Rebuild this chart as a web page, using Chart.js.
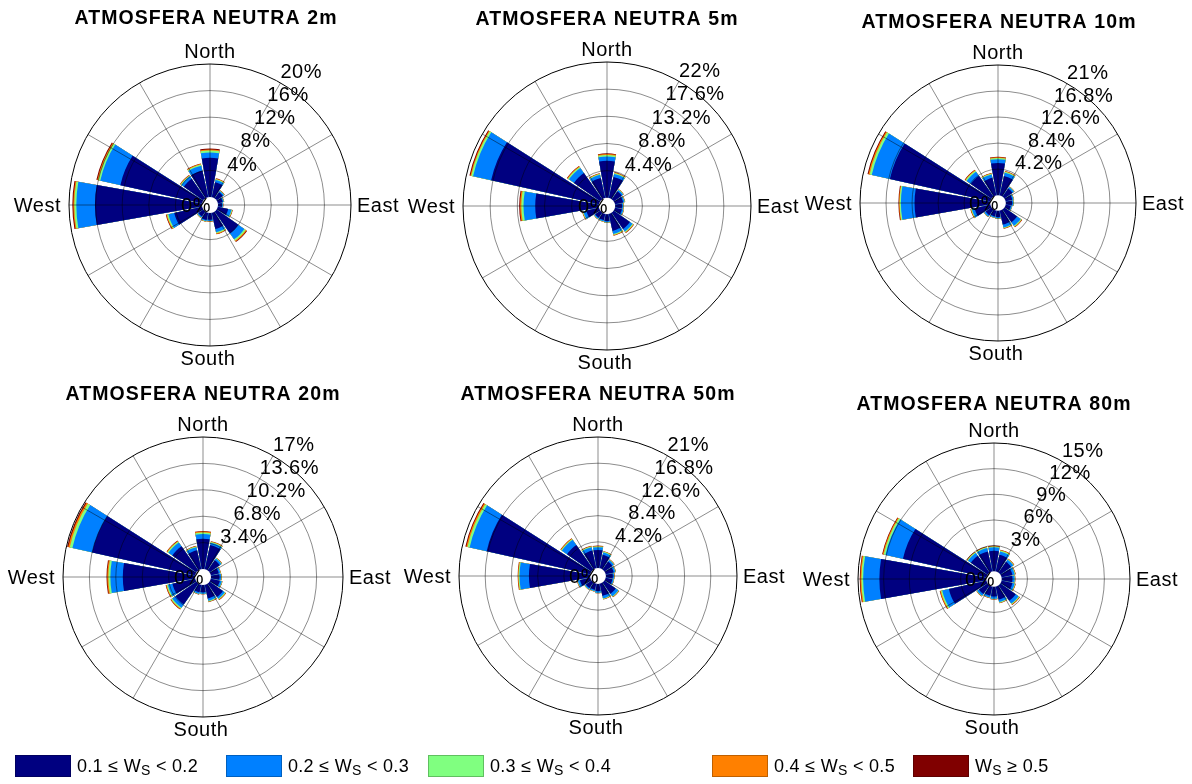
<!DOCTYPE html>
<html>
<head>
<meta charset="utf-8">
<title>Atmosfera neutra – rosas de vientos</title>
<script src="https://cdn.jsdelivr.net/npm/chart.js@4.4.1/dist/chart.umd.min.js"></script>
<style>
  html, body { margin: 0; padding: 0; background: #fff; }
  #page { position: relative; width: 1192px; height: 784px; overflow: hidden;
          font-family: "Liberation Sans", Arial, sans-serif; }
  #page canvas { position: absolute; }
  .leg-box { position: absolute; top: 755px; width: 56px; height: 22px; box-sizing: border-box;
             border: 1px solid rgba(0,0,0,0.25); }
  .leg-txt { position: absolute; top: 755px; height: 22px; line-height: 22px; font-size: 18px;
             color: #000; white-space: nowrap; letter-spacing: 0.3px; }
  .leg-txt sub { font-size: 14px; position: relative; top: 3px; vertical-align: baseline; }
</style>
</head>
<body>
<div id="page"></div>
<script>
// Compass sectors, clockwise from North
const DIRECTIONS = ['N','NNE','NE','ENE','E','ESE','SE','SSE','S','SSW','SW','WSW','W','WNW','NW','NNW'];
const HEIGHTS = ['2m', '5m', '10m', '20m', '50m', '80m'];
// outer ring value (%) of every rose
const RING_MAX = [20, 22, 21, 17, 21, 15];
// speed classes (W_S)
const CLASS_LOW  = [0.1, 0.2, 0.3, 0.4, 0.5];
const CLASS_HIGH = [0.2, 0.3, 0.4, 0.5, null];
const CLASS_COLORS = ['#000080', '#0080ff', '#80ff80', '#ff8000', '#800000'];

// frequency (%) per direction and speed class — 2 m
const h2_ws1 = [5.9, 2.3, 1.15, 0.75, 0.6, 1.6, 4.0, 2.5, 1.0, 1.1, 0.9, 4.3, 16.1, 12.6, 3.6, 4.1];
const h2_ws2 = [0.8, 0.35, 0.2, 0.15, 0.12, 0.5, 1.1, 0.5, 0.18, 0.18, 0.18, 0.9, 2.8, 3.1, 0.45, 0.75];
const h2_ws3 = [0.3, 0.12, 0.07, 0.05, 0.04, 0.1, 0.25, 0.15, 0.06, 0.06, 0.06, 0.2, 0.3, 0.3, 0.12, 0.18];
const h2_ws4 = [0.15, 0.08, 0.05, 0.03, 0.02, 0.06, 0.15, 0.1, 0.04, 0.04, 0.04, 0.12, 0.15, 0.15, 0.08, 0.1];
const h2_ws5 = [0.15, 0.05, 0.03, 0.02, 0.02, 0.04, 0.1, 0.05, 0.02, 0.02, 0.02, 0.08, 0.15, 0.15, 0.05, 0.07];

// 5 m
const h5_ws1 = [6.0, 3.5, 1.6, 1.35, 1.1, 1.15, 3.2, 2.8, 1.1, 1.0, 1.0, 2.1, 10.3, 17.9, 5.2, 3.3];
const h5_ws2 = [0.7, 0.5, 0.25, 0.22, 0.2, 0.23, 0.5, 0.5, 0.2, 0.2, 0.2, 0.5, 1.9, 3.0, 1.0, 0.55];
const h5_ws3 = [0.25, 0.15, 0.08, 0.07, 0.05, 0.06, 0.15, 0.15, 0.05, 0.05, 0.05, 0.1, 0.35, 0.3, 0.2, 0.13];
const h5_ws4 = [0.15, 0.1, 0.04, 0.04, 0.03, 0.04, 0.1, 0.1, 0.03, 0.03, 0.03, 0.06, 0.2, 0.15, 0.12, 0.08];
const h5_ws5 = [0.1, 0.05, 0.03, 0.02, 0.02, 0.02, 0.05, 0.05, 0.02, 0.02, 0.02, 0.04, 0.15, 0.15, 0.08, 0.04];

// 10 m
const h10_ws1 = [5.2, 3.2, 1.6, 1.1, 1.0, 0.85, 2.5, 2.3, 1.0, 0.95, 1.15, 2.6, 12.2, 16.6, 4.1, 2.9];
const h10_ws2 = [0.6, 0.55, 0.27, 0.2, 0.2, 0.17, 0.7, 0.5, 0.2, 0.17, 0.25, 0.45, 2.2, 3.0, 0.8, 0.55];
const h10_ws3 = [0.2, 0.13, 0.07, 0.05, 0.05, 0.04, 0.15, 0.1, 0.05, 0.04, 0.05, 0.12, 0.2, 0.35, 0.2, 0.13];
const h10_ws4 = [0.12, 0.08, 0.04, 0.03, 0.03, 0.02, 0.1, 0.06, 0.03, 0.02, 0.03, 0.08, 0.1, 0.2, 0.12, 0.08];
const h10_ws5 = [0.08, 0.04, 0.02, 0.02, 0.02, 0.02, 0.05, 0.04, 0.02, 0.02, 0.02, 0.05, 0.1, 0.15, 0.08, 0.04];

// 20 m
const h20_ws1 = [3.9, 3.2, 1.6, 1.05, 1.1, 1.2, 2.1, 1.8, 0.95, 1.0, 3.3, 3.0, 9.3, 13.6, 3.8, 2.5];
const h20_ws2 = [0.6, 0.3, 0.27, 0.2, 0.2, 0.25, 0.3, 0.3, 0.17, 0.2, 0.5, 0.6, 1.6, 2.6, 0.6, 0.4];
const h20_ws3 = [0.2, 0.1, 0.07, 0.05, 0.05, 0.05, 0.1, 0.1, 0.04, 0.05, 0.15, 0.15, 0.25, 0.35, 0.15, 0.1];
const h20_ws4 = [0.12, 0.06, 0.04, 0.03, 0.03, 0.03, 0.06, 0.06, 0.02, 0.03, 0.1, 0.1, 0.15, 0.2, 0.1, 0.06];
const h20_ws5 = [0.08, 0.04, 0.02, 0.02, 0.02, 0.02, 0.04, 0.04, 0.02, 0.02, 0.05, 0.05, 0.1, 0.15, 0.05, 0.04];

// 50 m
const h50_ws1 = [2.9, 2.2, 1.55, 1.3, 1.1, 1.1, 2.2, 2.0, 1.15, 1.0, 1.1, 1.7, 9.8, 17.0, 4.8, 2.9];
const h50_ws2 = [0.45, 0.4, 0.3, 0.27, 0.2, 0.2, 0.5, 0.4, 0.25, 0.2, 0.2, 0.35, 1.5, 2.8, 1.0, 0.55];
const h50_ws3 = [0.12, 0.1, 0.07, 0.06, 0.05, 0.05, 0.1, 0.1, 0.05, 0.05, 0.05, 0.07, 0.15, 0.35, 0.15, 0.12];
const h50_ws4 = [0.08, 0.06, 0.05, 0.04, 0.03, 0.03, 0.06, 0.06, 0.03, 0.03, 0.03, 0.05, 0.1, 0.2, 0.1, 0.08];
const h50_ws5 = [0.05, 0.04, 0.03, 0.03, 0.02, 0.02, 0.04, 0.04, 0.02, 0.02, 0.02, 0.03, 0.05, 0.15, 0.05, 0.05];

// 80 m
const h80_ws1 = [2.4, 2.0, 1.55, 1.3, 1.25, 1.3, 2.2, 1.55, 1.15, 1.1, 1.25, 4.5, 12.5, 10.0, 2.4, 2.4];
const h80_ws2 = [0.4, 0.4, 0.3, 0.27, 0.25, 0.27, 0.4, 0.3, 0.25, 0.2, 0.25, 0.8, 1.9, 2.1, 0.4, 0.4];
const h80_ws3 = [0.1, 0.1, 0.07, 0.06, 0.05, 0.06, 0.1, 0.08, 0.05, 0.05, 0.05, 0.15, 0.2, 0.2, 0.1, 0.1];
const h80_ws4 = [0.06, 0.06, 0.05, 0.04, 0.03, 0.04, 0.06, 0.04, 0.03, 0.03, 0.03, 0.1, 0.12, 0.12, 0.06, 0.06];
const h80_ws5 = [0.04, 0.04, 0.03, 0.03, 0.02, 0.03, 0.04, 0.03, 0.02, 0.02, 0.02, 0.05, 0.08, 0.08, 0.04, 0.04];

const ROSES = [
  [h2_ws1, h2_ws2, h2_ws3, h2_ws4, h2_ws5],
  [h5_ws1, h5_ws2, h5_ws3, h5_ws4, h5_ws5],
  [h10_ws1, h10_ws2, h10_ws3, h10_ws4, h10_ws5],
  [h20_ws1, h20_ws2, h20_ws3, h20_ws4, h20_ws5],
  [h50_ws1, h50_ws2, h50_ws3, h50_ws4, h50_ws5],
  [h80_ws1, h80_ws2, h80_ws3, h80_ws4, h80_ws5]
];

// ---- layout of the six panels (page pixels) ----
const PANELS = [
  { cx: 210, cy: 205, R: 141, tx: 205, ty: 24 },
  { cx: 607, cy: 206, R: 144, tx: 606, ty: 25 },
  { cx: 998, cy: 203, R: 138, tx: 998, ty: 28 },
  { cx: 203, cy: 577, R: 140, tx: 202, ty: 400 },
  { cx: 598, cy: 576, R: 139, tx: 597, ty: 400 },
  { cx: 994, cy: 579, R: 136, tx: 993, ty: 410 }
];
const HALF = 215;          // canvas half-size around the rose centre
const CANVAS_W = 430, CANVAS_H = 400;
const HOLE = 0.057;        // centre hole as a fraction of the radius
const SECTOR = 360 / DIRECTIONS.length;
const WEDGE = 20;          // drawn width of each sector, degrees
const GAP = SECTOR - WEDGE;
const FONT = '"Liberation Sans", Arial, sans-serif';

function fmtPct(v) {
  return parseFloat(v.toFixed(1)) + '%';
}

function rosePlugin(i) {
  const p = PANELS[i];
  return {
    id: 'roseDecor' + i,
    afterDraw(chart) {
      const ctx = chart.ctx;
      const s = chart.scales.r;
      const xc = s.xCenter, yc = s.yCenter, R = s.drawingArea;
      ctx.save();
      // centre hole
      ctx.beginPath();
      ctx.arc(xc, yc, s.getDistanceFromCenterForValue(0), 0, Math.PI * 2);
      ctx.fillStyle = '#fff';
      ctx.fill();

      ctx.fillStyle = '#000';
      ctx.font = '20px ' + FONT;
      ctx.letterSpacing = '0.5px';
      // ring labels along the 30° radial
      ctx.textAlign = 'left';
      ctx.textBaseline = 'bottom';
      const a = Math.PI / 6;
      s.ticks.forEach(t => {
        if (t.value <= 0) return;
        const r = s.getDistanceFromCenterForValue(t.value);
        ctx.fillText(fmtPct(t.value), xc + r * Math.sin(a), yc - r * Math.cos(a));
      });
      // zero label at the centre
      ctx.textAlign = 'right';
      ctx.textBaseline = 'alphabetic';
      ctx.fillText('0%', xc + 1, yc + 7);

      // cardinal labels
      ctx.textAlign = 'center';
      ctx.fillText('North', xc, yc - R - 6);
      ctx.fillText('South', xc - 2, yc + R + 19);
      ctx.textAlign = 'right';
      ctx.fillText('West', xc - R - 8, yc + 7);
      ctx.textAlign = 'left';
      ctx.fillText('East', xc + R + 6, yc + 7);

      // panel title
      ctx.font = 'bold 19.5px ' + FONT;
      ctx.letterSpacing = '1.1px';
      ctx.textAlign = 'center';
      const left = p.cx - HALF, top = p.cy - HALF;
      ctx.fillText('ATMOSFERA NEUTRA ' + HEIGHTS[i], p.tx - left + 1, p.ty - top);
      ctx.restore();
    }
  };
}

function buildRose(i) {
  const p = PANELS[i];
  const max = RING_MAX[i];
  const classes = ROSES[i];
  const canvas = document.createElement('canvas');
  canvas.width = CANVAS_W;
  canvas.height = CANVAS_H;
  canvas.style.left = (p.cx - HALF) + 'px';
  canvas.style.top = (p.cy - HALF) + 'px';
  canvas.style.width = CANVAS_W + 'px';
  canvas.style.height = CANVAS_H + 'px';
  document.getElementById('page').appendChild(canvas);

  // stacked classes: each dataset holds the running total, drawn largest first
  const cumulative = [];
  let running = DIRECTIONS.map(() => 0);
  classes.forEach(arr => {
    running = running.map((v, d) => v + arr[d]);
    cumulative.push(running.slice());
  });

  const datasets = cumulative.map((tot, k) => ({
    label: k,
    data: tot.flatMap(v => [v, 0]),            // sector, then the gap to the next sector
    backgroundColor: c => (c.dataIndex % 2 ? 'rgba(0,0,0,0)' : CLASS_COLORS[k]),
    borderWidth: 0,
    angle: c => (c.dataIndex % 2 ? GAP : WEDGE)
  }));

  const minVal = -max * HOLE / (1 - HOLE);
  const pad = HALF - p.R;

  new Chart(canvas, {
    type: 'polarArea',
    data: {
      labels: Array.from({ length: 36 }, () => ''),  // 10° steps, spokes every 30°
      datasets
    },
    options: {
      responsive: false,
      animation: false,
      events: [],
      layout: { padding: { left: pad, top: pad, right: CANVAS_W - HALF - p.R, bottom: CANVAS_H - HALF - p.R } },
      plugins: { legend: { display: false }, tooltip: { enabled: false } },
      scales: {
        r: {
          min: minVal,
          max: max,
          startAngle: -WEDGE / 2,
          afterBuildTicks: sc => {
            sc.ticks = [0, 1, 2, 3, 4, 5].map(k => ({ value: max * k / 5 }));
          },
          ticks: { display: false },
          pointLabels: { display: false },
          grid: {
            z: 1,
            circular: true,
            lineWidth: 1,
            color: c => {
              const v = c.tick ? c.tick.value : 0;
              if (v <= 0) return 'rgba(0,0,0,0)';
              return v >= max - 1e-9 ? '#000' : 'rgba(0,0,0,0.45)';
            }
          },
          angleLines: {
            display: true,
            lineWidth: 1,
            color: c => (c.index % 3 === 1 ? 'rgba(0,0,0,0.45)' : 'rgba(0,0,0,0)')
          }
        }
      }
    },
    plugins: [rosePlugin(i)]
  });
}

PANELS.forEach((_, i) => buildRose(i));

// ---- shared legend ----
const LEGEND_X = [15, 226, 428, 712, 913];
const page = document.getElementById('page');
CLASS_LOW.forEach((lo, k) => {
  const box = document.createElement('div');
  box.className = 'leg-box';
  box.style.left = LEGEND_X[k] + 'px';
  box.style.background = CLASS_COLORS[k];
  page.appendChild(box);
  const txt = document.createElement('div');
  txt.className = 'leg-txt';
  txt.style.left = (LEGEND_X[k] + 62) + 'px';
  const hi = CLASS_HIGH[k];
  txt.innerHTML = hi === null
    ? 'W<sub>S</sub> \u2265 ' + lo
    : lo + ' \u2264 W<sub>S</sub> &lt; ' + hi;
  page.appendChild(txt);
});
</script>
</body>
</html>
